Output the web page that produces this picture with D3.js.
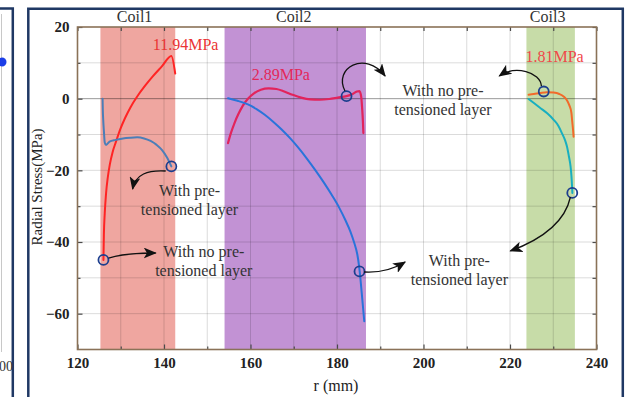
<!DOCTYPE html>
<html>
<head>
<meta charset="utf-8">
<script src="https://cdn.jsdelivr.net/npm/d3@7"></script>
<style>
  html, body { margin: 0; padding: 0; background: #fff; }
  svg { display: block; }
</style>
</head>
<body>
<svg id="chart" width="628" height="397"></svg>
<script>
// ---------------- data ----------------
const xTicks = [120, 140, 160, 180, 200, 220, 240];
const yTicks = [20, 0, -20, -40, -60];
const coilNames = ["Coil1", "Coil2", "Coil3"];
const coilStart = [125.3, 154.0, 223.8];
const coilEnd = [142.6, 186.7, 235.0];

// Coil1 - with no pre-tensioned layer (red)
const coil1NoPreR = [126.0, 126.1, 126.3, 126.6, 127.0, 127.5, 128.1, 128.9, 129.9, 131.0, 132.3, 133.8, 135.5, 137.4, 139.5, 141.7, 142.6];
const coil1NoPreS = [-45.0, -38, -32, -26.5, -22, -18.2, -15, -12, -8.5, -5.4, -2.3, 0.6, 3.4, 6.2, 9.0, 11.94, 7.0];
// Coil1 - with pre-tensioned layer (steel blue)
const coil1PreR = [125.8, 125.85, 125.95, 126.1, 126.3, 126.6, 127.4, 128.8, 130.5, 132.2, 133.8, 135.4, 136.9, 138.3, 139.6, 140.7, 141.7];
const coil1PreS = [0, -3, -6, -9, -12.2, -12.9, -12.0, -11.5, -11.1, -10.9, -10.8, -11.1, -11.8, -12.9, -14.4, -16.4, -18.9];
// Coil2 - with no pre-tensioned layer (crimson)
const coil2NoPreR = [154.8, 155.5, 156.3, 157.2, 158.2, 159.4, 160.8, 162.4, 164.2, 166.0, 167.8, 169.7, 171.7, 173.8, 176.0, 178.2, 180.2, 182.2, 183.6, 184.6, 185.2, 185.6, 185.8, 186.0, 186.1];
const coil2NoPreS = [-12.4, -9.5, -6.8, -4.3, -2.0, 0, 1.5, 2.5, 2.89, 2.7, 2.0, 1.1, 0.3, -0.2, -0.3, -0.1, 0.3, 0.7, 1.3, 2.0, 2.1, 0.5, -2.5, -6.5, -9.6];
// Coil2 - with pre-tensioned layer (blue)
const coil2PreR = [154.8, 157.0, 159.4, 161.4, 163.3, 165.3, 167.2, 169.2, 171.0, 172.9, 174.9, 176.9, 178.8, 180.5, 181.9, 183.1, 184.0, 184.7, 185.1, 185.4, 185.7, 186.0, 186.3];
const coil2PreS = [0.1, -0.6, -1.6, -2.9, -4.5, -6.5, -8.6, -11.1, -13.6, -16.5, -19.8, -23.3, -26.9, -30.4, -33.8, -37.1, -40.3, -43.5, -46.7, -50.0, -54, -58, -62.1];
// Coil3 - with no pre-tensioned layer (orange)
const coil3NoPreR = [224.3, 225.5, 227.0, 228.5, 230.1, 231.4, 232.4, 233.2, 233.7, 234.2, 234.4, 234.6, 234.7];
const coil3NoPreS = [1.1, 1.3, 1.6, 1.81, 1.7, 1.3, 0.6, -0.5, -1.8, -4.0, -6.5, -9, -10.6];
// Coil3 - with pre-tensioned layer (teal)
const coil3PreR = [224.3, 225.6, 227.0, 228.6, 230.1, 231.2, 232.0, 232.7, 233.2, 233.6, 234.0, 234.2, 234.35, 234.42];
const coil3PreS = [-0.1, -1.3, -2.6, -4.1, -5.9, -7.6, -9.6, -11.5, -13.5, -16, -18.9, -21.5, -24.5, -26.3];

// circled points
const markerR = [141.7, 126.0, 182.2, 185.2, 227.8, 234.4];
const markerS = [-18.9, -45.0, 0.7, -48.2, 2.0, -26.3];

// peak labels
const peakLabels = ["11.94MPa", "2.89MPa", "1.81MPa"];

// annotation texts
const annLines = [
  ["With pre-", "tensioned layer"],
  ["With no pre-", "tensioned layer"],
  ["With no pre-", "tensioned layer"],
  ["With pre-", "tensioned layer"]
];

// ---------------- layout / style ----------------
const svg = d3.select("#chart");
const x = d3.scaleLinear().domain([120, 240]).range([77.5, 596.5]);
const y = d3.scaleLinear().domain([-70, 20]).range([349.5, 27]);
const serif = "'Liberation Serif', 'Times New Roman', serif";

const bandColors = ["#EFA6A0", "#C292D4", "#C7DCA8"];
const seriesDefs = [
  { r: coil1NoPreR, s: coil1NoPreS, color: "#FF2424", w: 2 },
  { r: coil1PreR, s: coil1PreS, color: "#4C7EB8", w: 2 },
  { r: coil2NoPreR, s: coil2NoPreS, color: "#E2245C", w: 2.2 },
  { r: coil2PreR, s: coil2PreS, color: "#2A74DA", w: 2 },
  { r: coil3NoPreR, s: coil3NoPreS, color: "#F26A2A", w: 2 },
  { r: coil3PreR, s: coil3PreS, color: "#18AFC0", w: 2 }
];

// ---------- outer frames ----------
svg.append("line").attr("x1", 1.5).attr("x2", 1.5).attr("y1", 14).attr("y2", 352)
  .attr("stroke", "#c8c8c8").attr("stroke-width", 1);
svg.append("path").attr("d", "M-5,8.5 H12.8 V400")
  .attr("fill", "none").attr("stroke", "#1F3864").attr("stroke-width", 2.5);
svg.append("circle").attr("cx", 2).attr("cy", 62).attr("r", 4.5).attr("fill", "#1B3EE8");
svg.append("text").attr("x", -1).attr("y", 371).text("00")
  .attr("font-family", serif).attr("font-size", 14).attr("fill", "#333");
svg.append("path").attr("d", "M28.3,400 V8.8 H622.8 V400")
  .attr("fill", "none").attr("stroke", "#1F3864").attr("stroke-width", 2.5);

// ---------- bands ----------
const plot = svg.append("g");
plot.selectAll("rect.band").data(coilNames).join("rect").attr("class", "band")
  .attr("x", (d, i) => x(coilStart[i]))
  .attr("width", (d, i) => x(coilEnd[i]) - x(coilStart[i]))
  .attr("y", y(20)).attr("height", y(-70) - y(20))
  .attr("fill", (d, i) => bandColors[i]);

// ---------- grid ----------
const gx = d3.range(130, 240, 10);
const gy = d3.range(-60, 20, 10);
plot.selectAll("line.gx").data(gx).join("line").attr("class", "gx")
  .attr("x1", d => x(d)).attr("x2", d => x(d)).attr("y1", y(20)).attr("y2", y(-70))
  .attr("stroke", "#000").attr("stroke-opacity", 0.14).attr("stroke-width", 1);
plot.selectAll("line.gy").data(gy).join("line").attr("class", "gy")
  .attr("x1", x(120)).attr("x2", x(240)).attr("y1", d => y(d)).attr("y2", d => y(d))
  .attr("stroke", "#000").attr("stroke-opacity", d => d === 0 ? 0.4 : 0.14).attr("stroke-width", 1);

// ---------- curves ----------
const line = d3.line().curve(d3.curveMonotoneX);
seriesDefs.forEach(sd => {
  const pts = sd.r.map((r, i) => [x(r), y(sd.s[i])]);
  plot.append("path").attr("d", line(pts)).attr("fill", "none")
    .attr("stroke", sd.color).attr("stroke-width", sd.w)
    .attr("stroke-linejoin", "round").attr("stroke-linecap", "round");
});

// ---------- circled points ----------
plot.selectAll("circle.mk").data(markerR).join("circle").attr("class", "mk")
  .attr("cx", d => x(d)).attr("cy", (d, i) => y(markerS[i])).attr("r", 5)
  .attr("fill", "none").attr("stroke", "#1D3E8E").attr("stroke-width", 1.8);

// ---------- axes box & ticks ----------
const minorX = d3.range(130, 240, 20);
const minorY = d3.range(-70, 20, 20).filter(d => d > -70);
const tickStyle = g => {
  g.select(".domain").remove();
  g.selectAll(".tick line").attr("stroke", "#4a4a4a").attr("stroke-width", 1.2);
  g.selectAll("text").attr("font-family", serif).attr("font-weight", "bold")
    .attr("font-size", 15).attr("fill", "#222");
};
svg.append("g").attr("transform", `translate(0,${y(-70)})`)
  .call(d3.axisBottom(x).tickValues(xTicks).tickSizeInner(-5).tickSizeOuter(0).tickPadding(8).tickFormat(d3.format("d")))
  .call(tickStyle);
svg.append("g").attr("transform", `translate(0,${y(-70)})`)
  .call(d3.axisBottom(x).tickValues(minorX).tickSizeInner(-3).tickSizeOuter(0).tickFormat(""))
  .call(tickStyle);
svg.append("g").attr("transform", `translate(0,${y(20)})`)
  .call(d3.axisTop(x).tickValues(xTicks.concat(minorX)).tickSizeInner(-4).tickSizeOuter(0).tickFormat(""))
  .call(tickStyle);
svg.append("g").attr("transform", `translate(${x(120)},0)`)
  .call(d3.axisLeft(y).tickValues(yTicks).tickSizeInner(-5).tickSizeOuter(0).tickPadding(8))
  .call(tickStyle);
svg.append("g").attr("transform", `translate(${x(120)},0)`)
  .call(d3.axisLeft(y).tickValues(minorY).tickSizeInner(-3).tickSizeOuter(0).tickFormat(""))
  .call(tickStyle);
svg.append("g").attr("transform", `translate(${x(240)},0)`)
  .call(d3.axisRight(y).tickValues(yTicks.concat(minorY)).tickSizeInner(-4).tickSizeOuter(0).tickFormat(""))
  .call(tickStyle);
svg.append("rect").attr("x", x(120)).attr("y", y(20))
  .attr("width", x(240) - x(120)).attr("height", y(-70) - y(20))
  .attr("fill", "none").attr("stroke", "#8A7258").attr("stroke-width", 1.6);

// ---------- axis titles ----------
svg.append("text").attr("x", 336).attr("y", 391).attr("text-anchor", "middle")
  .attr("font-family", serif).attr("font-size", 16).attr("fill", "#222").text("r (mm)");
svg.append("text").attr("transform", "translate(42,187) rotate(-90)").attr("text-anchor", "middle")
  .attr("font-family", serif).attr("font-size", 15).attr("fill", "#222").text("Radial Stress(MPa)");

// ---------- coil titles ----------
const coilLabelR = [133.2, 170.0, 228.7];
svg.selectAll("text.coil").data(coilNames).join("text").attr("class", "coil")
  .attr("x", (d, i) => x(coilLabelR[i])).attr("y", 21.5).attr("text-anchor", "middle")
  .attr("font-family", serif).attr("font-size", 16).attr("fill", "#333").text(d => d);

// ---------- peak labels ----------
const peakPos = [[145.0, 13.6], [167.0, 5.2], [230.3, 10.2]];
const peakColors = ["#EA3434", "#E2285A", "#F04848"];
svg.selectAll("text.peak").data(peakLabels).join("text").attr("class", "peak")
  .attr("x", (d, i) => x(peakPos[i][0])).attr("y", (d, i) => y(peakPos[i][1]))
  .attr("text-anchor", "middle").attr("font-family", serif).attr("font-size", 16)
  .attr("fill", (d, i) => peakColors[i]).text(d => d);

// ---------- annotation texts ----------
const annPos = [[145.9, -27.2], [149.2, -44.2], [204.5, 0.7], [208.3, -46.7]];
annLines.forEach((lines, i) => {
  const t = svg.append("text").attr("text-anchor", "middle")
    .attr("font-family", serif).attr("font-size", 16).attr("fill", "#333");
  lines.forEach((ln, j) => {
    t.append("tspan").attr("x", x(annPos[i][0])).attr("y", y(annPos[i][1]) + j * 19).text(ln);
  });
});

// ---------- arrows ----------
const defs = svg.append("defs");
defs.append("marker").attr("id", "ah").attr("viewBox", "0 0 12 10")
  .attr("refX", 11).attr("refY", 5).attr("markerWidth", 13).attr("markerHeight", 11)
  .attr("markerUnits", "userSpaceOnUse").attr("orient", "auto")
  .append("path").attr("d", "M0,0 L12,5 L0,10 L3,5 Z").attr("fill", "#111");
const arrowPaths = [
  [[140.39, -20.19], [136.22, -19.91], [133.44, -21.02], [132.74, -25.21]],
  [[127.18, -44.47], [130.19, -43.35], [133.90, -43.07], [138.07, -43.07]],
  [[181.85, 2.14], [179.07, 8.56], [186.49, 13.58], [191.12, 6.33]],
  [[227.26, 3.53], [227.03, 7.44], [221.24, 9.40], [217.53, 6.33]],
  [[233.97, -27.44], [232.82, -33.86], [228.18, -38.88], [220.08, -42.51]],
  [[186.25, -48.37], [189.96, -48.65], [192.74, -47.81], [195.75, -45.58]]
];
arrowPaths.forEach(p => {
  const q = p.map(d => [x(d[0]), y(d[1])]);
  const path = d3.path();
  path.moveTo(q[0][0], q[0][1]);
  path.bezierCurveTo(q[1][0], q[1][1], q[2][0], q[2][1], q[3][0], q[3][1]);
  svg.append("path").attr("d", path.toString()).attr("fill", "none")
    .attr("stroke", "#111").attr("stroke-width", 1.3).attr("marker-end", "url(#ah)");
});
</script>
</body>
</html>
